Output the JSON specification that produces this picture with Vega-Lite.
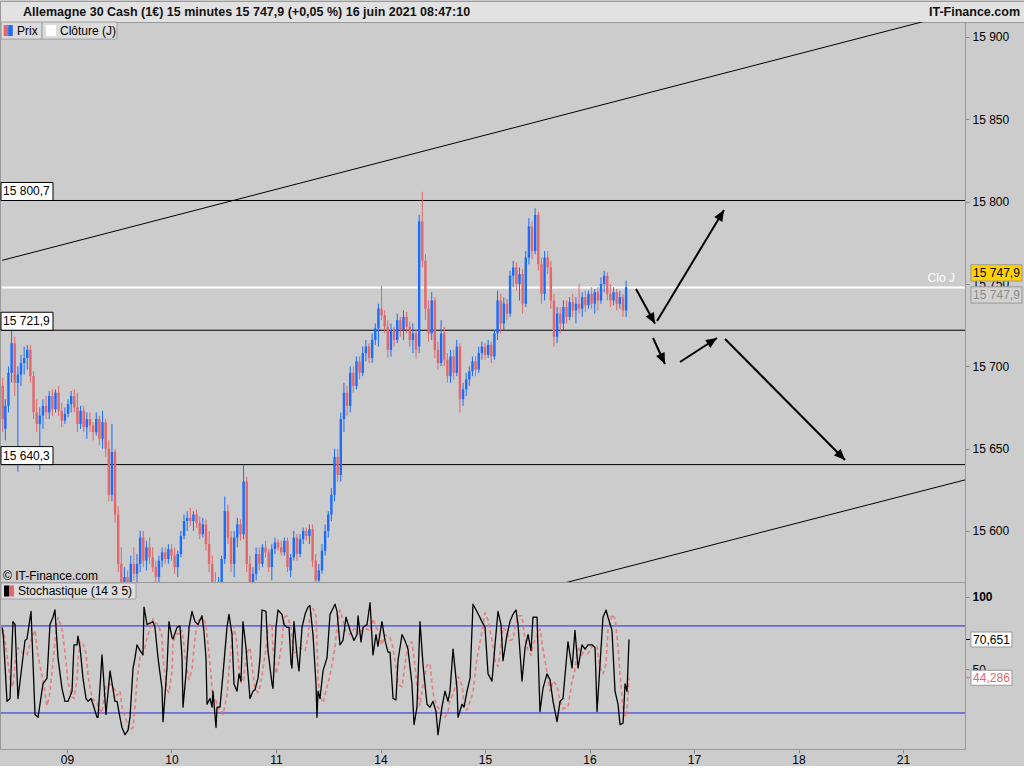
{
"$schema": "https://vega.github.io/schema/vega-lite/v6.json",
"padding": {"left": -2, "top": 0, "right": 0, "bottom": 0},
"background": "#cccccc",
"spacing": 0,
"bounds": "flush",
"config": {"view": {"stroke": "#999999", "fill": "#cccccc"}, "font": "Liberation Sans", "concat": {"spacing": 0},
  "axis": {"grid": false, "domainColor": "#999999", "tickColor": "#888888", "tickSize": 4, "labelFontSize": 12, "labelColor": "#000000", "labelPadding": 3}},
"datasets": {
"candles": [
{"t":0.385,"o":15688,"h":15693,"l":15660,"c":15668},{"t":0.41,"o":15662,"h":15680,"l":15655,"c":15676},{"t":0.44,"o":15676,"h":15700,"l":15672,"c":15696},{"t":0.47,"o":15696,"h":15722,"l":15690,"c":15714},{"t":0.50,"o":15714,"h":15718,"l":15682,"c":15690},{"t":0.53,"o":15690,"h":15700,"l":15636,"c":15695},{"t":0.56,"o":15695,"h":15707,"l":15688,"c":15702},{"t":0.59,"o":15702,"h":15712,"l":15695,"c":15705},{"t":0.62,"o":15705,"h":15713,"l":15698,"c":15710},{"t":0.65,"o":15710,"h":15713,"l":15690,"c":15694},
{"t":0.68,"o":15694,"h":15697,"l":15668,"c":15672},{"t":0.71,"o":15672,"h":15680,"l":15660,"c":15665},{"t":0.74,"o":15665,"h":15675,"l":15637,"c":15670},{"t":0.77,"o":15670,"h":15680,"l":15662,"c":15676},{"t":0.80,"o":15676,"h":15682,"l":15668,"c":15672},{"t":0.83,"o":15672,"h":15685,"l":15668,"c":15682},{"t":0.86,"o":15682,"h":15686,"l":15670,"c":15674},{"t":0.89,"o":15674,"h":15686,"l":15672,"c":15684},{"t":0.92,"o":15684,"h":15688,"l":15670,"c":15673},{"t":0.95,"o":15673,"h":15678,"l":15663,"c":15667},
{"t":0.98,"o":15667,"h":15675,"l":15665,"c":15671},{"t":1.01,"o":15671,"h":15680,"l":15669,"c":15677},{"t":1.04,"o":15677,"h":15685,"l":15672,"c":15682},{"t":1.07,"o":15682,"h":15686,"l":15672,"c":15675},{"t":1.10,"o":15675,"h":15684,"l":15660,"c":15665},{"t":1.13,"o":15665,"h":15676,"l":15662,"c":15673},{"t":1.16,"o":15673,"h":15676,"l":15660,"c":15663},{"t":1.19,"o":15663,"h":15672,"l":15656,"c":15668},{"t":1.22,"o":15668,"h":15672,"l":15660,"c":15664},{"t":1.25,"o":15664,"h":15666,"l":15655,"c":15660},
{"t":1.28,"o":15660,"h":15672,"l":15658,"c":15668},{"t":1.31,"o":15668,"h":15670,"l":15652,"c":15656},{"t":1.34,"o":15656,"h":15673,"l":15650,"c":15666},{"t":1.37,"o":15666,"h":15668,"l":15645,"c":15650},{"t":1.40,"o":15650,"h":15655,"l":15618,"c":15622},{"t":1.43,"o":15622,"h":15665,"l":15618,"c":15648},{"t":1.46,"o":15648,"h":15650,"l":15605,"c":15610},{"t":1.49,"o":15610,"h":15615,"l":15575,"c":15580},{"t":1.52,"o":15580,"h":15590,"l":15560,"c":15566},{"t":1.55,"o":15566,"h":15578,"l":15555,"c":15572},
{"t":1.58,"o":15572,"h":15576,"l":15560,"c":15565},{"t":1.61,"o":15565,"h":15585,"l":15560,"c":15580},{"t":1.64,"o":15580,"h":15590,"l":15570,"c":15574},{"t":1.67,"o":15574,"h":15586,"l":15568,"c":15580},{"t":1.70,"o":15580,"h":15600,"l":15575,"c":15596},{"t":1.73,"o":15596,"h":15600,"l":15578,"c":15582},{"t":1.76,"o":15582,"h":15594,"l":15576,"c":15590},{"t":1.79,"o":15590,"h":15596,"l":15580,"c":15584},{"t":1.82,"o":15584,"h":15590,"l":15575,"c":15578},{"t":1.85,"o":15578,"h":15582,"l":15566,"c":15572},
{"t":1.88,"o":15572,"h":15585,"l":15568,"c":15582},{"t":1.91,"o":15582,"h":15590,"l":15578,"c":15587},{"t":1.94,"o":15587,"h":15590,"l":15580,"c":15583},{"t":1.97,"o":15583,"h":15592,"l":15580,"c":15589},{"t":2.00,"o":15589,"h":15592,"l":15582,"c":15585},{"t":2.03,"o":15585,"h":15590,"l":15574,"c":15578},{"t":2.06,"o":15578,"h":15588,"l":15572,"c":15586},{"t":2.09,"o":15586,"h":15600,"l":15584,"c":15597},{"t":2.12,"o":15597,"h":15610,"l":15595,"c":15606},{"t":2.15,"o":15606,"h":15612,"l":15600,"c":15608},
{"t":2.18,"o":15608,"h":15614,"l":15603,"c":15606},{"t":2.21,"o":15606,"h":15612,"l":15600,"c":15610},{"t":2.24,"o":15610,"h":15613,"l":15602,"c":15605},{"t":2.27,"o":15605,"h":15609,"l":15595,"c":15598},{"t":2.30,"o":15598,"h":15608,"l":15596,"c":15604},{"t":2.33,"o":15604,"h":15607,"l":15588,"c":15592},{"t":2.36,"o":15592,"h":15600,"l":15575,"c":15580},{"t":2.39,"o":15580,"h":15585,"l":15560,"c":15568},{"t":2.42,"o":15568,"h":15575,"l":15555,"c":15560},{"t":2.45,"o":15560,"h":15572,"l":15555,"c":15568},
{"t":2.48,"o":15568,"h":15585,"l":15566,"c":15583},{"t":2.51,"o":15583,"h":15621,"l":15580,"c":15612},{"t":2.54,"o":15612,"h":15616,"l":15592,"c":15596},{"t":2.57,"o":15596,"h":15600,"l":15575,"c":15580},{"t":2.60,"o":15580,"h":15600,"l":15572,"c":15596},{"t":2.63,"o":15596,"h":15608,"l":15590,"c":15604},{"t":2.66,"o":15604,"h":15607,"l":15594,"c":15598},{"t":2.69,"o":15598,"h":15640,"l":15595,"c":15630},{"t":2.72,"o":15630,"h":15633,"l":15575,"c":15580},{"t":2.75,"o":15580,"h":15585,"l":15560,"c":15566},
{"t":2.78,"o":15566,"h":15578,"l":15562,"c":15574},{"t":2.81,"o":15574,"h":15590,"l":15570,"c":15586},{"t":2.84,"o":15586,"h":15590,"l":15576,"c":15580},{"t":2.87,"o":15580,"h":15592,"l":15578,"c":15590},{"t":2.90,"o":15590,"h":15594,"l":15584,"c":15587},{"t":2.93,"o":15587,"h":15589,"l":15575,"c":15578},{"t":2.96,"o":15578,"h":15592,"l":15570,"c":15589},{"t":2.99,"o":15589,"h":15596,"l":15586,"c":15593},{"t":3.02,"o":15593,"h":15595,"l":15588,"c":15590},{"t":3.05,"o":15590,"h":15594,"l":15585,"c":15587},
{"t":3.08,"o":15587,"h":15596,"l":15585,"c":15594},{"t":3.11,"o":15594,"h":15596,"l":15575,"c":15578},{"t":3.14,"o":15576,"h":15586,"l":15572,"c":15584},{"t":3.17,"o":15584,"h":15600,"l":15582,"c":15596},{"t":3.20,"o":15596,"h":15598,"l":15582,"c":15586},{"t":3.23,"o":15586,"h":15598,"l":15584,"c":15595},{"t":3.26,"o":15595,"h":15602,"l":15592,"c":15600},{"t":3.29,"o":15600,"h":15602,"l":15594,"c":15597},{"t":3.32,"o":15597,"h":15604,"l":15592,"c":15601},{"t":3.35,"o":15601,"h":15604,"l":15578,"c":15582},
{"t":3.38,"o":15582,"h":15586,"l":15566,"c":15570},{"t":3.41,"o":15570,"h":15580,"l":15564,"c":15576},{"t":3.44,"o":15576,"h":15592,"l":15574,"c":15588},{"t":3.47,"o":15588,"h":15604,"l":15585,"c":15600},{"t":3.50,"o":15600,"h":15612,"l":15596,"c":15610},{"t":3.53,"o":15610,"h":15626,"l":15606,"c":15622},{"t":3.56,"o":15622,"h":15650,"l":15618,"c":15645},{"t":3.59,"o":15645,"h":15650,"l":15630,"c":15634},{"t":3.62,"o":15634,"h":15672,"l":15630,"c":15668},{"t":3.65,"o":15668,"h":15690,"l":15660,"c":15684},
{"t":3.68,"o":15684,"h":15688,"l":15670,"c":15676},{"t":3.71,"o":15676,"h":15700,"l":15672,"c":15696},{"t":3.74,"o":15696,"h":15700,"l":15684,"c":15688},{"t":3.77,"o":15688,"h":15706,"l":15686,"c":15703},{"t":3.80,"o":15703,"h":15706,"l":15692,"c":15696},{"t":3.83,"o":15696,"h":15712,"l":15694,"c":15708},{"t":3.86,"o":15708,"h":15716,"l":15703,"c":15712},{"t":3.89,"o":15712,"h":15714,"l":15702,"c":15705},{"t":3.92,"o":15705,"h":15720,"l":15702,"c":15716},{"t":3.95,"o":15716,"h":15726,"l":15713,"c":15723},
{"t":3.98,"o":15723,"h":15738,"l":15712,"c":15735},{"t":4.01,"o":15735,"h":15749,"l":15728,"c":15731},{"t":4.04,"o":15731,"h":15734,"l":15720,"c":15724},{"t":4.07,"o":15724,"h":15728,"l":15705,"c":15710},{"t":4.10,"o":15710,"h":15726,"l":15706,"c":15722},{"t":4.13,"o":15722,"h":15724,"l":15712,"c":15716},{"t":4.16,"o":15716,"h":15732,"l":15714,"c":15728},{"t":4.19,"o":15728,"h":15730,"l":15718,"c":15722},{"t":4.22,"o":15722,"h":15734,"l":15716,"c":15730},{"t":4.25,"o":15730,"h":15733,"l":15720,"c":15724},
{"t":4.28,"o":15724,"h":15727,"l":15712,"c":15716},{"t":4.31,"o":15716,"h":15726,"l":15708,"c":15720},{"t":4.34,"o":15720,"h":15722,"l":15705,"c":15710},{"t":4.37,"o":15712,"h":15792,"l":15708,"c":15788},{"t":4.40,"o":15788,"h":15806,"l":15760,"c":15764},{"t":4.43,"o":15764,"h":15768,"l":15728,"c":15735},{"t":4.46,"o":15735,"h":15740,"l":15715,"c":15720},{"t":4.49,"o":15720,"h":15745,"l":15716,"c":15740},{"t":4.52,"o":15740,"h":15742,"l":15705,"c":15710},{"t":4.55,"o":15710,"h":15715,"l":15698,"c":15702},
{"t":4.58,"o":15702,"h":15728,"l":15700,"c":15720},{"t":4.61,"o":15720,"h":15724,"l":15700,"c":15704},{"t":4.64,"o":15704,"h":15708,"l":15690,"c":15694},{"t":4.67,"o":15694,"h":15710,"l":15690,"c":15706},{"t":4.70,"o":15706,"h":15710,"l":15692,"c":15696},{"t":4.73,"o":15696,"h":15716,"l":15694,"c":15712},{"t":4.76,"o":15712,"h":15714,"l":15672,"c":15680},{"t":4.79,"o":15680,"h":15690,"l":15676,"c":15686},{"t":4.82,"o":15686,"h":15696,"l":15682,"c":15692},{"t":4.85,"o":15692,"h":15700,"l":15688,"c":15697},
{"t":4.88,"o":15697,"h":15706,"l":15694,"c":15703},{"t":4.91,"o":15703,"h":15706,"l":15694,"c":15698},{"t":4.94,"o":15698,"h":15712,"l":15696,"c":15708},{"t":4.97,"o":15708,"h":15715,"l":15704,"c":15712},{"t":5.00,"o":15712,"h":15714,"l":15704,"c":15707},{"t":5.03,"o":15707,"h":15716,"l":15705,"c":15713},{"t":5.06,"o":15713,"h":15715,"l":15702,"c":15706},{"t":5.09,"o":15706,"h":15722,"l":15704,"c":15720},{"t":5.12,"o":15720,"h":15746,"l":15716,"c":15740},{"t":5.15,"o":15740,"h":15744,"l":15720,"c":15726},
{"t":5.18,"o":15726,"h":15742,"l":15722,"c":15738},{"t":5.21,"o":15738,"h":15741,"l":15728,"c":15732},{"t":5.24,"o":15732,"h":15758,"l":15730,"c":15755},{"t":5.27,"o":15755,"h":15764,"l":15748,"c":15760},{"t":5.30,"o":15760,"h":15763,"l":15746,"c":15750},{"t":5.33,"o":15750,"h":15760,"l":15740,"c":15756},{"t":5.36,"o":15756,"h":15759,"l":15732,"c":15738},{"t":5.39,"o":15738,"h":15770,"l":15736,"c":15766},{"t":5.42,"o":15766,"h":15790,"l":15762,"c":15785},{"t":5.45,"o":15785,"h":15788,"l":15765,"c":15770},
{"t":5.48,"o":15770,"h":15796,"l":15768,"c":15792},{"t":5.51,"o":15792,"h":15794,"l":15758,"c":15762},{"t":5.54,"o":15762,"h":15766,"l":15738,"c":15744},{"t":5.57,"o":15744,"h":15770,"l":15740,"c":15766},{"t":5.60,"o":15766,"h":15770,"l":15756,"c":15760},{"t":5.63,"o":15760,"h":15764,"l":15735,"c":15740},{"t":5.66,"o":15740,"h":15744,"l":15712,"c":15718},{"t":5.69,"o":15718,"h":15736,"l":15714,"c":15732},{"t":5.72,"o":15732,"h":15736,"l":15720,"c":15726},{"t":5.75,"o":15726,"h":15740,"l":15722,"c":15736},
{"t":5.78,"o":15736,"h":15740,"l":15726,"c":15730},{"t":5.81,"o":15730,"h":15742,"l":15728,"c":15739},{"t":5.84,"o":15739,"h":15744,"l":15730,"c":15734},{"t":5.87,"o":15734,"h":15742,"l":15726,"c":15738},{"t":5.90,"o":15738,"h":15750,"l":15732,"c":15735},{"t":5.93,"o":15735,"h":15745,"l":15730,"c":15742},{"t":5.96,"o":15742,"h":15746,"l":15733,"c":15737},{"t":5.99,"o":15737,"h":15746,"l":15735,"c":15744},{"t":6.02,"o":15744,"h":15748,"l":15735,"c":15738},{"t":6.05,"o":15738,"h":15747,"l":15732,"c":15745},
{"t":6.08,"o":15745,"h":15748,"l":15734,"c":15740},{"t":6.11,"o":15740,"h":15754,"l":15738,"c":15750},{"t":6.14,"o":15750,"h":15758,"l":15745,"c":15755},{"t":6.17,"o":15755,"h":15757,"l":15740,"c":15744},{"t":6.20,"o":15744,"h":15750,"l":15736,"c":15740},{"t":6.23,"o":15740,"h":15748,"l":15737,"c":15745},{"t":6.26,"o":15745,"h":15747,"l":15734,"c":15738},{"t":6.29,"o":15738,"h":15746,"l":15735,"c":15742},{"t":6.32,"o":15742,"h":15744,"l":15730,"c":15734},{"t":6.35,"o":15734,"h":15752,"l":15730,"c":15748}
],
"stoch": [
{"t":0.38,"k":79,"d":75},{"t":0.392,"k":72,"d":77},{"t":0.426,"k":28,"d":60},{"t":0.455,"k":30,"d":43},{"t":0.483,"k":83,"d":38},{"t":0.503,"k":81,"d":55},{"t":0.531,"k":30,"d":65},{"t":0.598,"k":70,"d":60},{"t":0.617,"k":71,"d":60},{"t":0.656,"k":90,"d":70},
{"t":0.694,"k":19,"d":77},{"t":0.723,"k":17,"d":60},{"t":0.770,"k":40,"d":42},{"t":0.809,"k":44,"d":25},{"t":0.837,"k":81,"d":34},{"t":0.866,"k":86,"d":55},{"t":0.885,"k":91,"d":70},{"t":0.914,"k":58,"d":86},{"t":0.952,"k":37,"d":78},{"t":0.981,"k":28,"d":62},
{"t":1.010,"k":28,"d":41},{"t":1.048,"k":35,"d":31},{"t":1.067,"k":67,"d":30},{"t":1.096,"k":67,"d":43},{"t":1.105,"k":73,"d":56},{"t":1.125,"k":65,"d":69},{"t":1.153,"k":44,"d":68},{"t":1.182,"k":30,"d":61},{"t":1.201,"k":28,"d":46},{"t":1.230,"k":30,"d":34},
{"t":1.249,"k":26,"d":29},{"t":1.287,"k":17,"d":28},{"t":1.297,"k":17,"d":24},{"t":1.335,"k":60,"d":20},{"t":1.354,"k":40,"d":31},{"t":1.373,"k":19,"d":39},{"t":1.412,"k":49,"d":40},{"t":1.459,"k":28,"d":36},{"t":1.479,"k":28,"d":32},{"t":1.507,"k":17,"d":35},
{"t":1.526,"k":10,"d":24},{"t":1.555,"k":5,"d":18},{"t":1.584,"k":8,"d":11},{"t":1.603,"k":17,"d":8},{"t":1.632,"k":51,"d":10},{"t":1.651,"k":58,"d":25},{"t":1.670,"k":67,"d":42},{"t":1.699,"k":63,"d":59},{"t":1.727,"k":60,"d":63},{"t":1.737,"k":93,"d":63},
{"t":1.766,"k":81,"d":72},{"t":1.794,"k":82,"d":78},{"t":1.823,"k":83,"d":85},{"t":1.842,"k":79,"d":82},{"t":1.871,"k":58,"d":81},{"t":1.909,"k":37,"d":73},{"t":1.919,"k":14,"d":58},{"t":1.957,"k":51,"d":36},{"t":1.976,"k":83,"d":34},{"t":2.005,"k":72,"d":49},
{"t":2.014,"k":71,"d":69},{"t":2.053,"k":79,"d":75},{"t":2.081,"k":80,"d":74},{"t":2.101,"k":58,"d":77},{"t":2.110,"k":24,"d":72},{"t":2.139,"k":47,"d":54},{"t":2.168,"k":79,"d":43},{"t":2.196,"k":90,"d":50},{"t":2.225,"k":83,"d":72},{"t":2.254,"k":81,"d":84},
{"t":2.292,"k":87,"d":85},{"t":2.311,"k":76,"d":84},{"t":2.330,"k":58,"d":81},{"t":2.340,"k":26,"d":74},{"t":2.369,"k":30,"d":53},{"t":2.388,"k":24,"d":38},{"t":2.397,"k":35,"d":27},{"t":2.426,"k":10,"d":30},{"t":2.436,"k":24,"d":23},{"t":2.464,"k":24,"d":23},
{"t":2.493,"k":47,"d":19},{"t":2.531,"k":79,"d":32},{"t":2.550,"k":88,"d":50},{"t":2.579,"k":74,"d":71},{"t":2.598,"k":40,"d":80},{"t":2.627,"k":35,"d":67},{"t":2.646,"k":47,"d":50},{"t":2.665,"k":42,"d":41},{"t":2.684,"k":83,"d":41},{"t":2.713,"k":65,"d":57},
{"t":2.732,"k":47,"d":63},{"t":2.751,"k":30,"d":65},{"t":2.780,"k":35,"d":47},{"t":2.799,"k":36,"d":37},{"t":2.828,"k":44,"d":34},{"t":2.847,"k":58,"d":38},{"t":2.866,"k":91,"d":46},{"t":2.904,"k":90,"d":64},{"t":2.923,"k":63,"d":80},{"t":2.962,"k":40,"d":81},
{"t":2.971,"k":37,"d":64},{"t":3.000,"k":79,"d":47},{"t":3.019,"k":91,"d":52},{"t":3.057,"k":88,"d":69},{"t":3.077,"k":81,"d":86},{"t":3.105,"k":79,"d":87},{"t":3.125,"k":79,"d":83},{"t":3.144,"k":54,"d":80},{"t":3.153,"k":51,"d":71},{"t":3.172,"k":83,"d":61},
{"t":3.201,"k":60,"d":63},{"t":3.220,"k":49,"d":65},{"t":3.249,"k":79,"d":64},{"t":3.278,"k":88,"d":63},{"t":3.306,"k":93,"d":72},{"t":3.325,"k":94,"d":87},{"t":3.354,"k":74,"d":92},{"t":3.383,"k":40,"d":87},{"t":3.392,"k":17,"d":69},{"t":3.402,"k":35,"d":44},
{"t":3.421,"k":30,"d":31},{"t":3.450,"k":49,"d":27},{"t":3.488,"k":58,"d":38},{"t":3.517,"k":88,"d":46},{"t":3.565,"k":95,"d":65},{"t":3.584,"k":90,"d":80},{"t":3.612,"k":67,"d":91},{"t":3.641,"k":70,"d":84},{"t":3.670,"k":86,"d":76},{"t":3.708,"k":77,"d":74},
{"t":3.746,"k":70,"d":78},{"t":3.775,"k":74,"d":78},{"t":3.785,"k":87,"d":74},{"t":3.813,"k":69,"d":77},{"t":3.833,"k":79,"d":77},{"t":3.871,"k":81,"d":78},{"t":3.900,"k":96,"d":76},{"t":3.928,"k":60,"d":85},{"t":3.957,"k":74,"d":79},{"t":3.976,"k":66,"d":77},
{"t":4.014,"k":83,"d":67},{"t":4.043,"k":70,"d":74},{"t":4.072,"k":62,"d":73},{"t":4.091,"k":62,"d":72},{"t":4.120,"k":30,"d":65},{"t":4.148,"k":29,"d":51},{"t":4.167,"k":56,"d":40},{"t":4.206,"k":74,"d":38},{"t":4.234,"k":70,"d":53},{"t":4.263,"k":64,"d":67},
{"t":4.301,"k":40,"d":69},{"t":4.321,"k":12,"d":58},{"t":4.349,"k":24,"d":39},{"t":4.378,"k":83,"d":25},{"t":4.407,"k":53,"d":40},{"t":4.445,"k":26,"d":53},{"t":4.474,"k":24,"d":54},{"t":4.502,"k":28,"d":34},{"t":4.531,"k":21,"d":26},{"t":4.550,"k":5,"d":24},
{"t":4.588,"k":24,"d":18},{"t":4.617,"k":35,"d":17},{"t":4.646,"k":28,"d":21},{"t":4.665,"k":35,"d":29},{"t":4.694,"k":64,"d":33},{"t":4.732,"k":37,"d":42},{"t":4.742,"k":17,"d":45},{"t":4.780,"k":26,"d":39},{"t":4.799,"k":24,"d":27},{"t":4.828,"k":35,"d":22},
{"t":4.857,"k":44,"d":28},{"t":4.885,"k":95,"d":34},{"t":4.923,"k":90,"d":58},{"t":4.971,"k":83,"d":76},{"t":5.000,"k":79,"d":89},{"t":5.029,"k":47,"d":84},{"t":5.067,"k":42,"d":70},{"t":5.096,"k":67,"d":56},{"t":5.124,"k":90,"d":52},{"t":5.153,"k":81,"d":66},
{"t":5.172,"k":56,"d":79},{"t":5.211,"k":74,"d":76},{"t":5.239,"k":83,"d":70},{"t":5.268,"k":88,"d":71},{"t":5.297,"k":91,"d":82},{"t":5.316,"k":81,"d":87},{"t":5.354,"k":42,"d":87},{"t":5.383,"k":65,"d":71},{"t":5.412,"k":74,"d":63},{"t":5.440,"k":63,"d":60},
{"t":5.459,"k":86,"d":67},{"t":5.498,"k":86,"d":74},{"t":5.526,"k":21,"d":78},{"t":5.555,"k":37,"d":64},{"t":5.593,"k":47,"d":48},{"t":5.622,"k":43,"d":35},{"t":5.651,"k":28,"d":42},{"t":5.689,"k":14,"d":39},{"t":5.718,"k":28,"d":28},{"t":5.746,"k":30,"d":23},
{"t":5.794,"k":69,"d":24},{"t":5.833,"k":51,"d":42},{"t":5.861,"k":77,"d":50},{"t":5.890,"k":51,"d":66},{"t":5.928,"k":67,"d":60},{"t":5.957,"k":64,"d":65},{"t":5.986,"k":67,"d":61},{"t":6.024,"k":67,"d":66},{"t":6.053,"k":65,"d":66},{"t":6.072,"k":21,"d":66},
{"t":6.101,"k":54,"d":51},{"t":6.129,"k":86,"d":47},{"t":6.158,"k":91,"d":54},{"t":6.177,"k":86,"d":77},{"t":6.215,"k":77,"d":88},{"t":6.244,"k":35,"d":85},{"t":6.273,"k":26,"d":66},{"t":6.292,"k":12,"d":46},{"t":6.321,"k":13,"d":24},{"t":6.340,"k":40,"d":17},
{"t":6.359,"k":35,"d":22},{"t":6.378,"k":70.651,"d":44.286}
]
},
"vconcat": [
{
"width": 1024, "height": 21,
"view": {"fill": "#e2e2e2", "stroke": "#999999"},
"layer": [
{"data": {"values": [{"s": "L", "txt": "Allemagne 30 Cash (1€) 15 minutes 15 747,9 (+0,05 %) 16 juin 2021 08:47:10"}]},
 "mark": {"type": "text", "align": "left", "baseline": "middle", "fontWeight": "bold", "fontSize": 12.5, "color": "#111111"},
 "encoding": {"x": {"field": "s", "type": "nominal", "scale": {"type": "point", "domain": ["L", "R"], "range": [23, 1020], "padding": 0}, "axis": null}, "text": {"field": "txt"}}},
{"data": {"values": [{"s": "R", "txt": "IT-Finance.com"}]},
 "mark": {"type": "text", "align": "right", "baseline": "middle", "fontWeight": "bold", "fontSize": 12.5, "color": "#111111"},
 "encoding": {"x": {"field": "s", "type": "nominal", "scale": {"type": "point", "domain": ["L", "R"], "range": [23, 1020], "padding": 0}, "axis": null}, "text": {"field": "txt"}}}
]
},
{
"width": 965, "height": 560,
"resolve": {"axis": {"x": "independent", "y": "independent"}},
"layer": [
{"data": {"values": [{"g": "u", "t": 0.38, "p": 15764.35}, {"g": "u", "t": 9.593, "p": 15915.9}, {"g": "d", "t": 5.6, "p": 15565.8}, {"g": "d", "t": 9.593, "p": 15631.0}]},
 "mark": {"type": "line", "color": "#000000", "strokeWidth": 1, "strokeJoin": "round", "clip": true},
 "encoding": {
  "x": {"field": "t", "type": "quantitative", "scale": {"domain": [0.359, 9.593], "nice": false, "zero": false}, "axis": null},
  "y": {"field": "p", "type": "quantitative", "scale": {"domain": [15569, 15909.1], "nice": false, "zero": false},
        "axis": {"orient": "right", "values": [15600, 15650, 15700, 15750, 15800, 15850, 15900], "labelExpr": "replace(format(datum.value, ','), ',', ' ')", "title": null}},
  "detail": {"field": "g"}}},
{"data": {"values": [{"lv": 15800.7}, {"lv": 15721.9}, {"lv": 15640.3}]},
 "mark": {"type": "rule", "color": "#000000", "strokeWidth": 1},
 "encoding": {
  "x": {"datum": 0.3686, "type": "quantitative", "scale": {"domain": [0.359, 9.593], "nice": false, "zero": false}, "axis": null},
  "x2": {"datum": 9.593},
  "y": {"field": "lv", "type": "quantitative", "scale": {"domain": [15569, 15909.1], "nice": false, "zero": false}, "axis": null}}},
{"data": {"values": [{}]},
 "mark": {"type": "rule", "color": "#ffffff", "strokeWidth": 2},
 "encoding": {
  "x": {"datum": 0.378, "type": "quantitative", "scale": {"domain": [0.359, 9.593], "nice": false, "zero": false}, "axis": null},
  "x2": {"datum": 9.593},
  "y": {"datum": 15747.9, "type": "quantitative", "scale": {"domain": [15569, 15909.1], "nice": false, "zero": false}, "axis": null}}},
{"data": {"name": "candles"},
 "mark": {"type": "rule", "strokeWidth": 1, "clip": true},
 "encoding": {
  "x": {"field": "t", "type": "quantitative", "scale": {"domain": [0.359, 9.593], "nice": false, "zero": false}, "axis": null},
  "y": {"field": "l", "type": "quantitative", "scale": {"domain": [15569, 15909.1], "nice": false, "zero": false}, "axis": null},
  "y2": {"field": "h"},
  "color": {"condition": {"test": "datum.c >= datum.o", "value": "#1a6cff"}, "value": "#e3666a"}}},
{"data": {"name": "candles"},
 "mark": {"type": "rule", "strokeWidth": 2.4, "strokeCap": "butt", "clip": true},
 "encoding": {
  "x": {"field": "t", "type": "quantitative", "scale": {"domain": [0.359, 9.593], "nice": false, "zero": false}, "axis": null},
  "y": {"field": "o", "type": "quantitative", "scale": {"domain": [15569, 15909.1], "nice": false, "zero": false}, "axis": null},
  "y2": {"field": "c"},
  "color": {"condition": {"test": "datum.c >= datum.o", "value": "#1a6cff"}, "value": "#e3666a"}}},
{"data": {"values": [
  {"t1": 6.445, "p1": 15747.0, "t2": 6.627, "p2": 15725.8, "ang": 151.5},
  {"t1": 6.646, "p1": 15727.5, "t2": 7.287, "p2": 15794.9, "ang": 31.1},
  {"t1": 6.608, "p1": 15717.2, "t2": 6.722, "p2": 15701.4, "ang": 155.2},
  {"t1": 6.866, "p1": 15702.6, "t2": 7.220, "p2": 15717.2, "ang": 57},
  {"t1": 7.297, "p1": 15716.6, "t2": 8.445, "p2": 15643.1, "ang": 135.2}]},
 "layer": [
  {"mark": {"type": "rule", "color": "#000000", "strokeWidth": 2},
   "encoding": {
    "x": {"field": "t1", "type": "quantitative", "scale": {"domain": [0.359, 9.593], "nice": false, "zero": false}, "axis": null},
    "x2": {"field": "t2"},
    "y": {"field": "p1", "type": "quantitative", "scale": {"domain": [15569, 15909.1], "nice": false, "zero": false}, "axis": null},
    "y2": {"field": "p2"}}},
  {"mark": {"type": "point", "shape": "M0,0L-0.6,1.4L0.6,1.4Z", "size": 247, "filled": true, "color": "#000000", "opacity": 1},
   "encoding": {
    "x": {"field": "t2", "type": "quantitative", "scale": {"domain": [0.359, 9.593], "nice": false, "zero": false}, "axis": null},
    "y": {"field": "p2", "type": "quantitative", "scale": {"domain": [15569, 15909.1], "nice": false, "zero": false}, "axis": null},
    "angle": {"field": "ang", "type": "quantitative", "scale": null}}}
 ]},
{"data": {"values": [{"lv": 15800.7, "lb": "15 800,7"}, {"lv": 15721.9, "lb": "15 721,9"}, {"lv": 15640.3, "lb": "15 640,3"}]},
 "layer": [
  {"mark": {"type": "point", "shape": "M-1,-0.346H1V0.346H-1Z", "size": 2704, "filled": true, "fill": "#ffffff", "stroke": "#000000", "strokeWidth": 1, "opacity": 1, "yOffset": -9},
   "encoding": {
    "x": {"datum": 0.6174, "type": "quantitative", "scale": {"domain": [0.359, 9.593], "nice": false, "zero": false}, "axis": null},
    "y": {"field": "lv", "type": "quantitative", "scale": {"domain": [15569, 15909.1], "nice": false, "zero": false}, "axis": null}}},
  {"mark": {"type": "text", "align": "left", "baseline": "middle", "fontSize": 12, "color": "#000000", "yOffset": -9},
   "encoding": {
    "x": {"datum": 0.388, "type": "quantitative", "scale": {"domain": [0.359, 9.593], "nice": false, "zero": false}, "axis": null},
    "y": {"field": "lv", "type": "quantitative", "scale": {"domain": [15569, 15909.1], "nice": false, "zero": false}, "axis": null},
    "text": {"field": "lb"}}}
 ]},
{"data": {"values": [{"txt": "Clo J"}]},
 "mark": {"type": "text", "align": "right", "baseline": "bottom", "fontSize": 12, "color": "#ffffff", "yOffset": -2},
 "encoding": {
  "x": {"datum": 9.497, "type": "quantitative", "scale": {"domain": [0.359, 9.593], "nice": false, "zero": false}, "axis": null},
  "y": {"datum": 15747.9, "type": "quantitative", "scale": {"domain": [15569, 15909.1], "nice": false, "zero": false}, "axis": null},
  "text": {"field": "txt"}}},
{"data": {"values": [{"txt": "15 747,9"}]},
 "layer": [
  {"mark": {"type": "point", "shape": "M-1,-0.32H1V0.32H-1Z", "size": 2601, "filled": true, "fill": "#ffd200", "stroke": "#999999", "strokeWidth": 1, "opacity": 1, "yOffset": -14.5},
   "encoding": {
    "x": {"datum": 9.894, "type": "quantitative", "scale": {"domain": [0.359, 9.593], "nice": false, "zero": false}, "axis": null},
    "y": {"datum": 15747.9, "type": "quantitative", "scale": {"domain": [15569, 15909.1], "nice": false, "zero": false}, "axis": null}}},
  {"mark": {"type": "text", "align": "center", "baseline": "middle", "fontSize": 12, "color": "#000000", "yOffset": -14.5},
   "encoding": {
    "x": {"datum": 9.894, "type": "quantitative", "scale": {"domain": [0.359, 9.593], "nice": false, "zero": false}, "axis": null},
    "y": {"datum": 15747.9, "type": "quantitative", "scale": {"domain": [15569, 15909.1], "nice": false, "zero": false}, "axis": null},
    "text": {"field": "txt"}}},
  {"mark": {"type": "point", "shape": "M-1,-0.32H1V0.32H-1Z", "size": 2601, "filled": true, "fill": "#d2d2d2", "stroke": "#999999", "strokeWidth": 1, "opacity": 1, "yOffset": 7.5},
   "encoding": {
    "x": {"datum": 9.894, "type": "quantitative", "scale": {"domain": [0.359, 9.593], "nice": false, "zero": false}, "axis": null},
    "y": {"datum": 15747.9, "type": "quantitative", "scale": {"domain": [15569, 15909.1], "nice": false, "zero": false}, "axis": null}}},
  {"mark": {"type": "text", "align": "center", "baseline": "middle", "fontSize": 12, "color": "#8a8a8a", "yOffset": 7.5},
   "encoding": {
    "x": {"datum": 9.894, "type": "quantitative", "scale": {"domain": [0.359, 9.593], "nice": false, "zero": false}, "axis": null},
    "y": {"datum": 15747.9, "type": "quantitative", "scale": {"domain": [15569, 15909.1], "nice": false, "zero": false}, "axis": null},
    "text": {"field": "txt"}}}
 ]},
{"data": {"values": [{"txt": "© IT-Finance.com"}]},
 "mark": {"type": "text", "align": "left", "baseline": "middle", "fontSize": 12, "color": "#000000"},
 "encoding": {
  "x": {"datum": 0.388, "type": "quantitative", "scale": {"domain": [0.359, 9.593], "nice": false, "zero": false}, "axis": null},
  "y": {"datum": 15572.7, "type": "quantitative", "scale": {"domain": [15569, 15909.1], "nice": false, "zero": false}, "axis": null},
  "text": {"field": "txt"}}},
{"data": {"values": [{"t": 0.5653, "sh": "M-1,-0.415H1V0.415H-1Z", "sz": 1681}, {"t": 1.12, "sh": "M-1,-0.227H1V0.227H-1Z", "sz": 5625}]},
 "mark": {"type": "point", "filled": true, "fill": "#dcdcdc", "stroke": "#a0a0a0", "strokeWidth": 1, "opacity": 1},
 "encoding": {
  "x": {"field": "t", "type": "quantitative", "scale": {"domain": [0.359, 9.593], "nice": false, "zero": false}, "axis": null},
  "y": {"datum": 15903.9, "type": "quantitative", "scale": {"domain": [15569, 15909.1], "nice": false, "zero": false}, "axis": null},
  "shape": {"field": "sh", "type": "nominal", "scale": null},
  "size": {"field": "sz", "type": "quantitative", "scale": null}}},
{"data": {"values": [{"t": 0.416, "col": "#e3666a", "sh": "M-1,-2.4H1V2.4H-1Z", "sz": 21}, {"t": 0.459, "col": "#1a6cff", "sh": "M-1,-2.4H1V2.4H-1Z", "sz": 21}, {"t": 0.847, "col": "#ffffff", "sh": "M-1,-1.1H1V1.1H-1Z", "sz": 100}]},
 "mark": {"type": "point", "filled": true, "opacity": 1},
 "encoding": {
  "x": {"field": "t", "type": "quantitative", "scale": {"domain": [0.359, 9.593], "nice": false, "zero": false}, "axis": null},
  "y": {"datum": 15903.9, "type": "quantitative", "scale": {"domain": [15569, 15909.1], "nice": false, "zero": false}, "axis": null},
  "shape": {"field": "sh", "type": "nominal", "scale": null},
  "size": {"field": "sz", "type": "quantitative", "scale": null},
  "color": {"field": "col", "type": "nominal", "scale": null}}},
{"data": {"values": [{"t": 0.522, "txt": "Prix"}, {"t": 0.933, "txt": "Clôture (J)"}]},
 "mark": {"type": "text", "align": "left", "baseline": "middle", "fontSize": 12, "color": "#000000"},
 "encoding": {
  "x": {"field": "t", "type": "quantitative", "scale": {"domain": [0.359, 9.593], "nice": false, "zero": false}, "axis": null},
  "y": {"datum": 15903.9, "type": "quantitative", "scale": {"domain": [15569, 15909.1], "nice": false, "zero": false}, "axis": null},
  "text": {"field": "txt"}}}
]
},
{
"width": 965, "height": 167,
"resolve": {"axis": {"x": "independent", "y": "independent"}},
"layer": [
{"data": {"values": [{"v": 80}, {"v": 20}]},
 "mark": {"type": "rule", "color": "#2424d8", "strokeWidth": 1},
 "encoding": {
  "x": {"datum": 0.3686, "type": "quantitative", "scale": {"domain": [0.359, 9.593], "nice": false, "zero": false}, "axis": null},
  "x2": {"datum": 9.593},
  "y": {"field": "v", "type": "quantitative", "scale": {"domain": [-4.83, 110.3], "nice": false, "zero": false},
   "axis": {"orient": "right", "values": [50, 100], "title": null,
            "labelFontWeight": {"condition": {"test": "datum.value == 100", "value": "bold"}, "value": "normal"}}}}},
{"data": {"name": "stoch"},
 "mark": {"type": "line", "color": "#e87070", "strokeWidth": 1.6, "strokeDash": [4, 3], "strokeJoin": "round", "opacity": 0.85, "clip": true},
 "encoding": {
  "x": {"field": "t", "type": "quantitative", "scale": {"domain": [0.359, 9.593], "nice": false, "zero": false},
   "axis": {"values": [1, 2, 3, 4, 5, 6, 7, 8, 9], "labelExpr": "['','09','10','11','14','15','16','17','18','21'][datum.value]", "title": null, "labelPadding": 1}},
  "y": {"field": "d", "type": "quantitative", "scale": {"domain": [-4.83, 110.3], "nice": false, "zero": false}, "axis": null}}},
{"data": {"name": "stoch"},
 "mark": {"type": "line", "color": "#000000", "strokeWidth": 1.3, "strokeJoin": "round", "clip": true},
 "encoding": {
  "x": {"field": "t", "type": "quantitative", "scale": {"domain": [0.359, 9.593], "nice": false, "zero": false}, "axis": null},
  "y": {"field": "k", "type": "quantitative", "scale": {"domain": [-4.83, 110.3], "nice": false, "zero": false}, "axis": null}}},
{"data": {"values": [{"v": 70.651, "txt": "70,651", "col": "#000000"}, {"v": 44.286, "txt": "44,286", "col": "#e3666a"}]},
 "layer": [
  {"mark": {"type": "rule", "strokeWidth": 1},
   "encoding": {
    "x": {"datum": 9.603, "type": "quantitative", "scale": {"domain": [0.359, 9.593], "nice": false, "zero": false}, "axis": null},
    "x2": {"datum": 9.641},
    "y": {"field": "v", "type": "quantitative", "scale": {"domain": [-4.83, 110.3], "nice": false, "zero": false}, "axis": null},
    "color": {"field": "col", "type": "nominal", "scale": null}}},
  {"mark": {"type": "point", "shape": "M-1,-0.366H1V0.366H-1Z", "size": 1681, "filled": true, "fill": "#ffffff", "stroke": "#999999", "strokeWidth": 1, "opacity": 1},
   "encoding": {
    "x": {"datum": 9.846, "type": "quantitative", "scale": {"domain": [0.359, 9.593], "nice": false, "zero": false}, "axis": null},
    "y": {"field": "v", "type": "quantitative", "scale": {"domain": [-4.83, 110.3], "nice": false, "zero": false}, "axis": null}}},
  {"mark": {"type": "text", "align": "center", "baseline": "middle", "fontSize": 12},
   "encoding": {
    "x": {"datum": 9.846, "type": "quantitative", "scale": {"domain": [0.359, 9.593], "nice": false, "zero": false}, "axis": null},
    "y": {"field": "v", "type": "quantitative", "scale": {"domain": [-4.83, 110.3], "nice": false, "zero": false}, "axis": null},
    "text": {"field": "txt"},
    "color": {"field": "col", "type": "nominal", "scale": null}}}
 ]},
{"data": {"values": [{}]},
 "mark": {"type": "point", "shape": "M-1,-0.1185H1V0.1185H-1Z", "size": 18225, "filled": true, "fill": "#dcdcdc", "stroke": "#a0a0a0", "strokeWidth": 1, "opacity": 1},
 "encoding": {
  "x": {"datum": 1.0145, "type": "quantitative", "scale": {"domain": [0.359, 9.593], "nice": false, "zero": false}, "axis": null},
  "y": {"datum": 104.1, "type": "quantitative", "scale": {"domain": [-4.83, 110.3], "nice": false, "zero": false}, "axis": null}}},
{"data": {"values": [{"t": 0.421, "col": "#000000"}, {"t": 0.469, "col": "#e3666a"}]},
 "mark": {"type": "point", "shape": "M-1,-2.2H1V2.2H-1Z", "size": 25, "filled": true, "opacity": 1},
 "encoding": {
  "x": {"field": "t", "type": "quantitative", "scale": {"domain": [0.359, 9.593], "nice": false, "zero": false}, "axis": null},
  "y": {"datum": 104.1, "type": "quantitative", "scale": {"domain": [-4.83, 110.3], "nice": false, "zero": false}, "axis": null},
  "color": {"field": "col", "type": "nominal", "scale": null}}},
{"data": {"values": [{"txt": "Stochastique (14 3 5)"}]},
 "mark": {"type": "text", "align": "left", "baseline": "middle", "fontSize": 12, "color": "#000000"},
 "encoding": {
  "x": {"datum": 0.531, "type": "quantitative", "scale": {"domain": [0.359, 9.593], "nice": false, "zero": false}, "axis": null},
  "y": {"datum": 104.1, "type": "quantitative", "scale": {"domain": [-4.83, 110.3], "nice": false, "zero": false}, "axis": null},
  "text": {"field": "txt"}}}
]
}
]
}
